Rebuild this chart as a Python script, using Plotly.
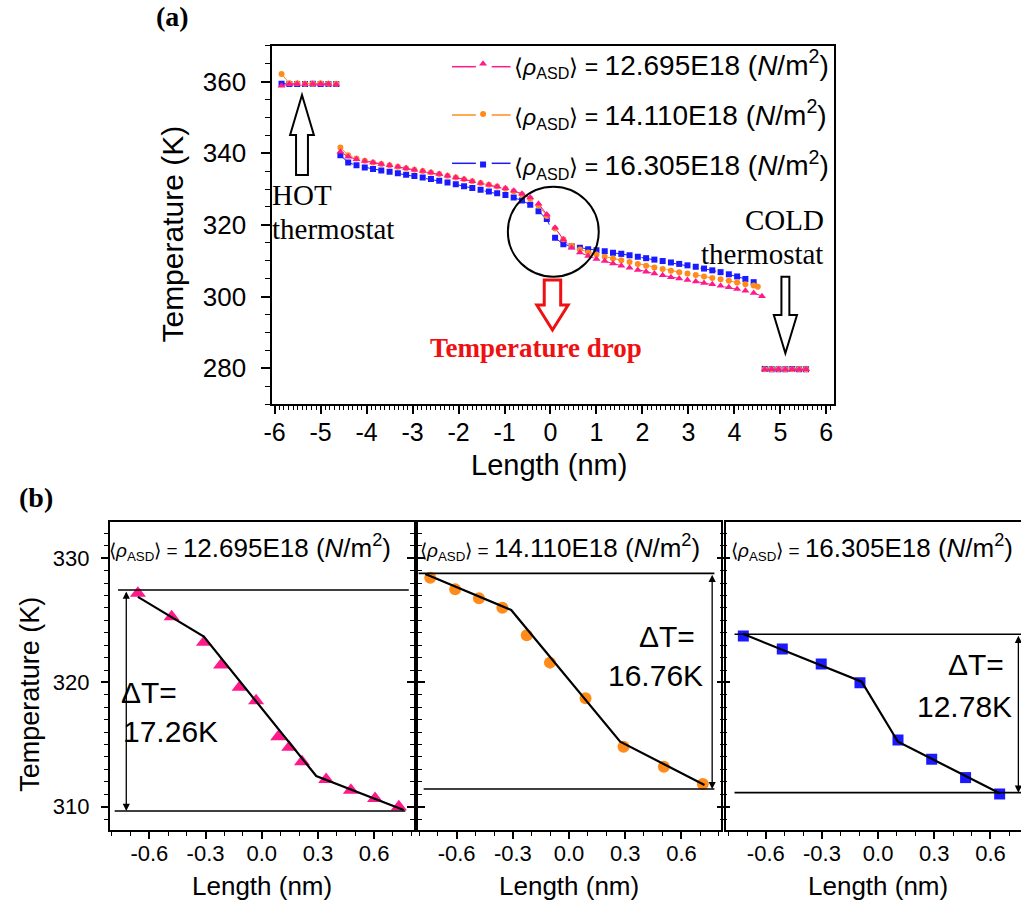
import plotly.graph_objects as go

W, H = 1021, 901


def fx(px):
    return px / W


def fy(py):
    return 1 - py / H


PINK = "#FF1A8C"
ORANGE = "#FF8C1A"
BLUE = "#1A1AFF"
RED = "#EE1111"
SANS = "Liberation Sans, Arial, sans-serif"
SERIF = "Liberation Serif, Times New Roman, serif"

# ---------------- data, panel (a) ----------------
hot_x = [-5.85, -5.68, -5.51, -5.34, -5.17, -5.00, -4.83, -4.66]
hot_pink = [358.8, 359.3, 359.3, 359.3, 359.3, 359.3, 359.3, 359.2]
hot_orange = [362.1, 359.5, 359.5, 359.4, 359.4, 359.5, 359.4, 359.4]
hot_blue = [359.4, 359.3, 359.3, 359.3, 359.4, 359.3, 359.3, 359.3]

x_main = [-4.57, -4.40, -4.22, -4.04, -3.86, -3.68, -3.50, -3.32, -3.14, -2.96,
          -2.78, -2.60, -2.42, -2.24, -2.06, -1.88, -1.70, -1.52, -1.34, -1.16,
          -0.98, -0.80, -0.62, -0.44, -0.26, -0.08, 0.10, 0.28, 0.46, 0.64,
          0.82, 1.00, 1.18, 1.36, 1.54, 1.72, 1.90, 2.08, 2.26, 2.44,
          2.62, 2.80, 2.98, 3.16, 3.34, 3.52, 3.70, 3.88, 4.06, 4.24, 4.42]
x_end_pink = [4.60]
x_end_orange = [4.51]

T_pink = [340.4, 339.0, 338.3, 337.8, 337.4, 337.0, 336.6, 336.2, 335.8, 335.4,
          335.0, 334.6, 334.2, 333.7, 333.2, 332.7, 332.2, 331.7, 331.2, 330.7,
          330.2, 329.5, 328.7, 327.6, 325.9, 322.9, 319.2, 315.9, 313.6, 312.3,
          311.3, 310.5, 309.9, 309.2, 308.6, 308.0, 307.4, 306.9, 306.4, 305.9,
          305.4, 305.0, 304.6, 304.2, 303.8, 303.4, 303.0, 302.6, 302.1, 301.6, 301.0,
          300.1]
T_orange = [341.6, 339.4, 338.5, 337.9, 337.4, 337.0, 336.6, 336.2, 335.8, 335.4,
            335.0, 334.6, 334.2, 333.7, 333.2, 332.7, 332.2, 331.7, 331.2, 330.7,
            330.1, 329.4, 328.5, 327.3, 325.4, 322.5, 319.0, 316.0, 314.2, 313.1,
            312.3, 311.7, 311.1, 310.6, 310.1, 309.6, 309.1, 308.6, 308.1, 307.7,
            307.2, 306.8, 306.4, 306.0, 305.6, 305.2, 304.8, 304.4, 303.9, 303.4, 303.1,
            302.7]
T_blue = [339.4, 337.4, 336.6, 336.0, 335.6, 335.2, 334.8, 334.4, 334.0, 333.6,
          333.2, 332.8, 332.3, 331.8, 331.3, 330.8, 330.3, 329.8, 329.3, 328.8,
          328.3, 327.6, 326.8, 325.6, 323.8, 321.6, 316.4, 314.6, 314.0, 313.6,
          313.2, 312.9, 312.6, 312.2, 311.9, 311.5, 311.1, 310.7, 310.3, 309.9,
          309.5, 309.1, 308.7, 308.3, 307.8, 307.3, 306.8, 306.2, 305.6, 304.9, 304.0]

cold_x = [4.66, 4.81, 4.96, 5.11, 5.26, 5.41, 5.56]
cold_pink = [279.6, 279.7, 279.7, 279.6, 279.7, 279.6, 279.7]
cold_orange = [279.7, 279.7, 279.8, 279.7, 279.7, 279.8, 279.7]
cold_blue = [279.8, 279.7, 279.7, 279.7, 279.8, 279.7, 279.7]

labels = ["12.695E18", "14.110E18", "16.305E18"]

a_xticks = [-6, -5, -4, -3, -2, -1, 0, 1, 2, 3, 4, 5, 6]
a_xticktext = ["-6", "-5", "-4", "-3", "-2", "-1", "0", "1", "2", "3", "4", "5", "6"]
a_yticks = [280, 300, 320, 340, 360]

# ---------------- data, panel (b) ----------------
b1_x = [-0.661, -0.481, -0.308, -0.217, -0.118, -0.030, 0.088, 0.147, 0.215,
        0.344, 0.476, 0.605, 0.732]
b1_T = [327.18, 325.30, 323.24, 321.41, 319.61, 318.53, 315.64, 314.78, 313.62,
        312.19, 311.33, 310.66, 309.99]
b1_fit_x = [-0.661, -0.309, 0.291, 0.758]
b1_fit_T = [326.90, 323.70, 312.47, 309.73]

b2_x = [-0.741, -0.608, -0.481, -0.356, -0.226, -0.102, 0.088, 0.291, 0.506, 0.714]
b2_T = [328.44, 327.50, 326.78, 326.02, 323.80, 321.60, 318.73, 314.83, 313.22, 311.83]
b2_fit_x = [-0.767, -0.309, 0.273, 0.723]
b2_fit_T = [328.74, 325.84, 315.23, 311.75]

b3_x = [-0.720, -0.512, -0.304, -0.097, 0.106, 0.286, 0.467, 0.649]
b3_T = [323.75, 322.70, 321.49, 319.98, 315.37, 313.82, 312.34, 311.02]
b3_fit_x = [-0.720, -0.088, 0.106, 0.649]
b3_fit_T = [323.90, 320.06, 315.23, 311.08]

dT_labels = ["17.26K", "16.76K", "12.78K"]

b_xticks = [-0.6, -0.3, 0.0, 0.3, 0.6]
b_xticktext = ["-0.6", "-0.3", "0.0", "0.3", "0.6"]
b_yticks = [310, 320, 330]


def seg(*parts):
    out = []
    for i, p in enumerate(parts):
        if i:
            out.append(None)
        out.extend(p)
    return out


def rho_text(val, small, big):
    return (f"<span style='font-size:{small}px'>\u27e8<i>\u03c1</i><sub>ASD</sub>\u27e9 = </span>"
            f"<span style='font-size:{big}px'>{val} (<i>N</i>/m<sup>2</sup>)</span>")


fig = go.Figure()

DASH = "16px,14px"
series = [
    (hot_blue, x_main, T_blue, cold_blue, BLUE, "square", 6, labels[2], 3),
    (hot_orange, x_main + x_end_orange, T_orange, cold_orange, ORANGE, "circle", 6, labels[1], 2),
    (hot_pink, x_main + x_end_pink, T_pink, cold_pink, PINK, "triangle-up", 7, labels[0], 1),
]
for hot_T, xm, Tm, cold_T, col, sym, ms, lab, rank in series:
    xs = seg(hot_x, xm, cold_x)
    ys = seg(hot_T, Tm, cold_T)
    fig.add_trace(go.Scatter(
        x=xs, y=ys, mode="lines",
        line=dict(color=col, width=1, dash=DASH),
        showlegend=False, xaxis="x", yaxis="y"))
    fig.add_trace(go.Scatter(
        x=xs, y=ys, mode="markers",
        marker=dict(symbol=sym, size=ms, color=col, line=dict(width=0)),
        name=rho_text(lab, 23, 28), legendgroup=f"g{rank}", legendrank=rank,
        xaxis="x", yaxis="y"))

# bottom panels
bottom = [
    (b1_x, b1_T, b1_fit_x, b1_fit_T, PINK, "triangle-up", 14, "2"),
    (b2_x, b2_T, b2_fit_x, b2_fit_T, ORANGE, "circle", 12, "3"),
    (b3_x, b3_T, b3_fit_x, b3_fit_T, BLUE, "square", 11, "4"),
]
for bx, bT, fxl, fTl, col, sym, ms, k in bottom:
    fig.add_trace(go.Scatter(x=bx, y=bT, mode="markers",
                             marker=dict(symbol=sym, size=ms, color=col, line=dict(width=0)),
                             showlegend=False, xaxis="x" + k, yaxis="y" + k))
    fig.add_trace(go.Scatter(x=fxl, y=fTl, mode="lines",
                             line=dict(color="black", width=2.2),
                             showlegend=False, xaxis="x" + k, yaxis="y" + k))

axis_common = dict(showline=True, linecolor="black", linewidth=2, ticks="outside",
                   tickcolor="black", tickwidth=1.5, showgrid=False, zeroline=False)

# panel (a) geometry (pixels)
A_L, A_R, A_T, A_B = 265.7, 832, 45.7, 404
fig.update_layout(
    xaxis=dict(domain=[fx(A_L), fx(A_R)], range=[-6.05, 6.16], anchor="y",
               tickmode="array", tickvals=a_xticks, ticktext=a_xticktext,
               ticklen=8, mirror=True,
               tickfont=dict(family=SANS, size=25, color="black"),
               minor=dict(dtick=0.1, tick0=0, ticklen=4, ticks="outside",
                          tickcolor="black", tickwidth=1),
               ticklabelstandoff=-3, **axis_common),
    yaxis=dict(domain=[fy(A_B), fy(A_T)], range=[270, 370], anchor="x",
               tickmode="array", tickvals=a_yticks, ticklen=9, mirror=True,
               tickfont=dict(family=SANS, size=26, color="black"),
               minor=dict(dtick=5, tick0=0, ticklen=5, ticks="outside",
                          tickcolor="black", tickwidth=1),
               ticklabelstandoff=10, **axis_common),
)

B_T, B_B = 521.7, 830
panels = [("2", 101.7, 410.7, [-0.811, 0.824]),
          ("3", 411.0, 718.3, [-0.815, 0.811]),
          ("4", 723.3, 1021.0, [-0.813, 0.763])]
for k, l, r, xr in panels:
    fig.update_layout(**{
        "xaxis" + k: dict(domain=[fx(l), fx(r)], range=xr, anchor="y" + k,
                          tickmode="array", tickvals=b_xticks, ticktext=b_xticktext,
                          ticklen=7, mirror=True,
                          tickfont=dict(family=SANS, size=22, color="black"),
                          minor=dict(dtick=0.1, tick0=0, ticklen=4, ticks="outside",
                                     tickcolor="black", tickwidth=1),
                          ticklabelstandoff=-4, **axis_common),
        "yaxis" + k: dict(domain=[fy(B_B), fy(B_T)], range=[308.12, 332.95], anchor="x" + k,
                          tickmode="array", tickvals=b_yticks, ticklen=7,
                          mirror=("ticks" if k != "4" else False),
                          showticklabels=(k == "2"),
                          tickfont=dict(family=SANS, size=22, color="black"),
                          minor=dict(dtick=1, tick0=0, ticklen=4, ticks="outside",
                                     tickcolor="black", tickwidth=1),
                          ticklabelstandoff=7, **axis_common),
    })

annotations = []
shapes = []


def ann(text, x, y, size, family=SANS, color="black", xanchor="center", yanchor="middle",
        xref="paper", yref="paper", textangle=0, bold=False):
    if bold:
        text = f"<b>{text}</b>"
    annotations.append(dict(text=text, x=x, y=y, xref=xref, yref=yref, showarrow=False,
                            xanchor=xanchor, yanchor=yanchor, textangle=textangle,
                            borderpad=0,
                            font=dict(family=family, size=size, color=color)))


# axis titles
ann("Temperature (K)", fx(164), fy(234), 30, textangle=-90)
ann("Length (nm)", fx(545), fy(465), 29)
ann("Temperature (K)", fx(21), fy(694), 27, textangle=-90)
for k, l, r, xr in panels:
    zero_px = l + (0 - xr[0]) / (xr[1] - xr[0]) * (r - l)
    ann("Length (nm)", fx(zero_px), fy(886), 26)

# panel labels
ann("(a)", fx(165), fy(17), 28, family=SERIF, bold=True)
ann("(b)", fx(27), fy(497), 28, family=SERIF, bold=True)

# text annotations in panel (a)
ann("HOT", fx(264), fy(195), 29, family=SERIF, xanchor="left")
ann("thermostat", fx(264), fy(229), 29, family=SERIF, xanchor="left")
ann("COLD", fx(823), fy(220), 29, family=SERIF, xanchor="right")
ann("thermostat", fx(822), fy(254), 29, family=SERIF, xanchor="right")
ann("Temperature drop", fx(532), fy(348), 27, family=SERIF, color=RED, bold=True)


def path(points):
    return "M " + " L ".join(f"{fx(px):.5f},{fy(py):.5f}" for px, py in points) + " Z"


def up_arrow(cx, tip, base, bottom_, hw, sw):
    return [(cx, tip), (cx + hw, base), (cx + sw, base), (cx + sw, bottom_),
            (cx - sw, bottom_), (cx - sw, base), (cx - hw, base)]


shapes.append(dict(type="path", xref="paper", yref="paper",
                   path=path(up_arrow(295.6, 95, 135, 175, 12, 6)),
                   line=dict(color="black", width=2), fillcolor="white"))
shapes.append(dict(type="path", xref="paper", yref="paper",
                   path=path(up_arrow(783.3, 353.3, 315, 276.7, 11.7, 4)),
                   line=dict(color="black", width=2), fillcolor="white"))
shapes.append(dict(type="path", xref="paper", yref="paper",
                   path=path(up_arrow(548.3, 330, 305, 280, 15.8, 8.3)),
                   line=dict(color=RED, width=3), fillcolor="white"))
shapes.append(dict(type="circle", xref="paper", yref="paper",
                   x0=fx(503.3), x1=fx(595), y0=fy(276.7), y1=fy(186.7),
                   line=dict(color="black", width=2)))

# legend sample dashes (left and right of each legend marker)
legend_rows = [66.7, 115.0, 163.3]
legend_cols = [PINK, ORANGE, BLUE]
for ry, col in zip(legend_rows, legend_cols):
    for x0, x1 in ((447, 471), (487, 506)):
        shapes.append(dict(type="line", xref="paper", yref="paper",
                           x0=fx(x0), x1=fx(x1), y0=fy(ry), y1=fy(ry),
                           line=dict(color=col, width=1.5)))

# bottom panel decorations
deco = [
    ("2", (327.45, -0.767, 0.785), (309.65, -0.785, 0.767), -0.723,
     (-0.754, 319.21, "left"), (-0.745, 316.04, "left")),
    ("3", (328.79, -0.803, 0.776), (311.42, -0.776, 0.776), 0.764,
     (0.680, 323.69, "right"), (0.723, 320.60, "right")),
    ("4", (323.88, -0.767, 0.80), (311.13, -0.767, 0.80), 0.749,
     (0.679, 321.41, "right"), (0.721, 318.05, "right")),
]
for i, (k, top, bot, ax_x, t1, t2) in enumerate(deco):
    for yv, x0, x1 in (top, bot):
        shapes.append(dict(type="line", xref="x" + k, yref="y" + k, x0=x0, x1=x1, y0=yv, y1=yv,
                           line=dict(color="black", width=1.6)))
    annotations.append(dict(x=ax_x, y=bot[0], ax=ax_x, ay=top[0], xref="x" + k, yref="y" + k,
                            axref="x" + k, ayref="y" + k, text="", showarrow=True,
                            arrowhead=2, arrowside="end+start", arrowsize=1.1,
                            arrowwidth=1.3, arrowcolor="black"))
    ann("\u0394T=", t1[0], t1[1], 30, xanchor=t1[2], xref="x" + k, yref="y" + k)
    ann(dT_labels[i], t2[0], t2[1], 30, xanchor=t2[2], xref="x" + k, yref="y" + k)

title_left = [100, 414, 727]
for i, lab in enumerate(labels):
    ann(rho_text(lab, 19, 26), fx(title_left[i]), fy(547), 26, xanchor="left")

fig.update_layout(
    width=W, height=H, margin=dict(l=0, r=0, t=0, b=0),
    paper_bgcolor="white", plot_bgcolor="white",
    font=dict(family=SANS, color="black"),
    showlegend=True,
    legend=dict(x=fx(447), y=fy(39), xanchor="left", yanchor="top",
                bgcolor="rgba(0,0,0,0)", font=dict(family=SANS, size=28, color="black"),
                itemwidth=52, tracegroupgap=11, itemclick=False),
    annotations=annotations, shapes=shapes,
)

fig.write_html("out.html", config={"displayModeBar": False},
               post_script="document.body.style.margin='0';document.body.style.overflow='hidden';")
